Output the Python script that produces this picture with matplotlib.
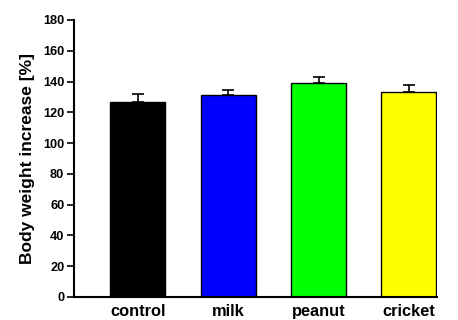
import matplotlib.pyplot as plt
import numpy as np

# data
groups = ['control', 'milk', 'peanut', 'cricket']
weight_gain = [127, 131.5, 139, 133]
weight_err = [5, 3, 4, 4.5]
bar_colors = ['#000000', '#0000ff', '#00ff00', '#ffff00']
y_ticks = [0, 20, 40, 60, 80, 100, 120, 140, 160, 180]

plt.rcParams['font.family'] = ['Liberation Sans', 'DejaVu Sans']
plt.rcParams['font.weight'] = 'bold'

fig = plt.figure(figsize=(4.58, 3.2), dpi=100)
ax = fig.add_axes([0.1616, 0.0719, 0.7924, 0.8656])

x = np.arange(len(groups))
ax.bar(x, weight_gain, width=0.61, color=bar_colors, edgecolor='black', linewidth=1.0,
       yerr=[np.zeros(len(weight_err)), weight_err],
       error_kw=dict(ecolor='black', elinewidth=1.2, capsize=4, capthick=1.2))

ax.set_xlim(-0.705, 3.31)
ax.set_ylim(0, 180)
ax.set_yticks(y_ticks)
ax.set_xticks(x)
ax.set_xticklabels(groups, fontsize=11.8, fontweight='bold')
ax.tick_params(axis='x', length=0, pad=5)
ax.tick_params(axis='y', length=5, width=1.2, labelsize=9.2, pad=2)
for lab in ax.get_yticklabels():
    lab.set_fontweight('bold')

ax.spines['top'].set_visible(False)
ax.spines['right'].set_visible(False)
ax.spines['left'].set_linewidth(1.5)
ax.spines['bottom'].set_linewidth(1.5)

ax.set_ylabel('Body weight increase [%]', fontsize=12.5, fontweight='bold', labelpad=6)

fig.savefig('out.png', dpi=100)
